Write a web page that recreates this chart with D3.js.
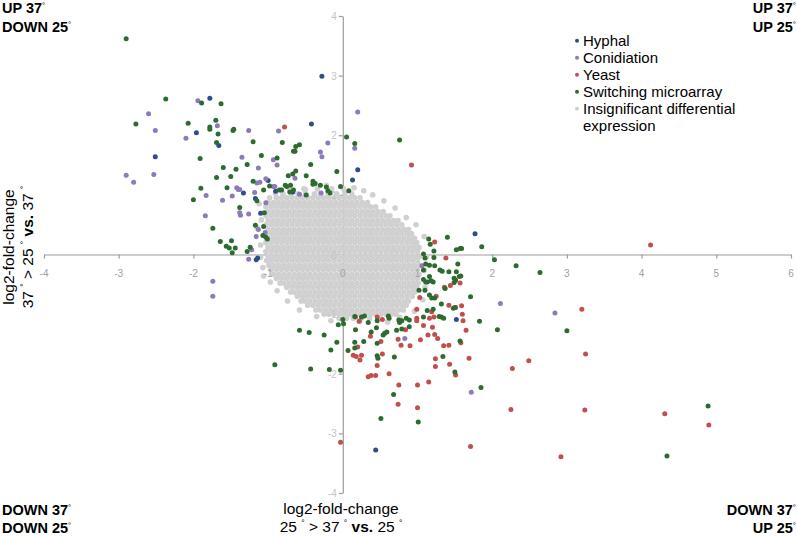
<!DOCTYPE html>
<html>
<head>
<meta charset="utf-8">
<script src="https://cdn.jsdelivr.net/npm/d3@7"></script>
<style>
  body { margin: 0; background: #fff; }
  svg { display: block; font-family: "Liberation Sans", Arial, Helvetica, sans-serif; }
</style>
</head>
<body>
<div id="chart"></div>
<script>
// log2-fold-change: x = 25 > 37 vs 25, y = 37 > 25 vs 37
var hyphal = [[-1.78,2.62],[-1.96,2.04],[-1.66,1.83],[-2.51,1.64],[-0.28,2.99],[-0.42,2.19],[-1.33,1.03],
  [-1.17,0.94],[-1.10,0.69],[-1.00,1.24],[-0.90,1.06],[-0.67,1.05],[0.13,1.25],[0.20,1.42],[-1.16,-0.09],
  [-1.14,-0.06],[1.77,0.35],[1.13,-0.46],[1.52,-1.09],[0.44,-3.28]];

var conidiation = [[-2.60,2.36],[-2.51,2.08],[-1.94,2.58],[-1.68,2.16],[-2.10,1.95],[-1.26,2.08],[-0.86,2.07],
  [-0.20,1.87],[-0.30,1.72],[-0.28,1.64],[-1.35,1.63],[-0.93,1.59],[-0.88,1.50],[-1.13,1.45],[-0.64,1.28],
  [-1.15,1.20],[-1.11,1.21],[-1.03,1.27],[-1.42,1.12],[-1.40,1.09],[-1.38,1.09],[-1.18,1.04],[-0.93,1.14],
  [-0.91,1.14],[-0.58,1.01],[-0.29,1.03],[-2.90,1.33],[-2.80,1.21],[-2.53,1.34],[-1.83,0.99],[-1.48,0.98],
  [-1.61,0.91],[-1.84,0.65],[-1.38,0.70],[-1.37,0.66],[-1.26,0.68],[-1.03,0.87],[-1.13,0.42],[-1.16,0.30],
  [-1.04,0.37],[0.20,2.39],[0.16,1.78],[-1.22,0.08],[-1.26,-0.08],[1.06,-0.19],[2.11,-0.82],[2.84,-0.98],
  [0.83,-1.41],[1.72,-2.31],[-1.74,-0.45],[-1.74,-0.70]];

var yeast = [[-0.78,2.14],[0.92,1.50],[1.23,0.21],[1.38,-0.06],[1.25,-0.70],[1.36,-0.55],[1.44,-0.52],
  [1.57,-0.48],[1.03,-0.72],[0.99,-0.92],[1.42,-0.85],[1.51,-0.89],[1.59,-0.86],[1.19,-0.96],[1.60,-1.00],
  [0.99,-1.07],[0.99,-1.11],[1.16,-1.07],[1.22,-1.05],[1.61,-1.11],[1.08,-1.19],[1.20,-1.22],[1.65,-1.27],
  [0.17,-1.05],[0.22,-1.12],[0.46,-1.05],[0.53,-1.09],[0.51,-1.46],[0.37,-1.37],[0.74,-1.42],[0.78,-1.52],
  [0.90,-1.53],[0.84,-1.26],[1.04,-1.43],[1.14,-1.35],[1.23,-1.34],[1.27,-1.41],[1.35,-1.53],[1.42,-1.52],
  [1.58,-1.48],[0.20,-1.55],[0.14,-1.69],[0.18,-1.71],[0.23,-1.77],[0.25,-1.69],[0.53,-1.67],[0.46,-1.86],
  [0.62,-2.00],[0.34,-2.05],[0.38,-2.03],[0.44,-2.03],[1.24,-1.75],[1.24,-1.88],[1.43,-1.84],[1.51,-2.02],
  [1.69,-1.74],[2.27,-1.91],[2.49,-1.78],[3.20,-0.92],[3.25,-1.67],[3.24,-2.61],[2.25,-2.60],[2.92,-3.39],
  [1.71,-3.22],[1.00,-2.19],[1.15,-2.14],[0.75,-2.19],[0.74,-2.51],[1.00,-2.57],[-0.03,-3.15],[4.12,0.16],
  [4.31,-2.67],[4.90,-2.86]];

var switching = [[-2.90,3.62],[-2.37,2.61],[-2.77,2.19],[-1.89,2.54],[-1.63,2.53],[-1.70,2.25],[-2.07,2.20],
  [-1.78,2.14],[-1.78,2.10],[-1.67,2.02],[-1.47,2.08],[-1.46,2.10],[-1.69,1.88],[-1.20,1.89],[-0.81,1.88],
  [0.05,1.97],[0.16,1.86],[-0.58,1.84],[-0.63,1.81],[-0.66,1.73],[-0.64,1.73],[-1.91,1.61],[-1.09,1.66],
  [-0.88,1.62],[-1.28,1.51],[-1.60,1.46],[-1.43,1.43],[-0.43,1.51],[-0.08,1.39],[-1.69,1.29],[-1.50,1.31],
  [-0.73,1.32],[-0.67,1.35],[-0.63,1.40],[-0.49,1.32],[-1.90,1.11],[-1.55,1.12],[-1.20,1.23],[-0.98,1.15],
  [-0.77,1.16],[-0.75,1.14],[-0.70,1.16],[-0.40,1.23],[-0.40,1.18],[-0.37,1.19],[-0.30,1.16],[-0.22,1.13],
  [-0.20,1.07],[-0.17,1.03],[-0.03,1.14],[0.08,1.07],[-0.85,1.08],[-0.82,1.08],[-0.71,1.05],[-0.66,1.08],
  [-0.49,1.00],[-1.06,1.08],[-2.00,0.92],[-1.38,0.79],[-1.15,0.90],[-1.05,0.70],[-1.74,0.44],[-1.17,0.49],
  [-1.06,0.47],[-1.07,0.32],[-1.03,0.29],[-1.01,0.26],[-1.64,0.22],[-1.49,0.23],[-1.56,0.14],[-1.52,0.11],
  [-1.44,0.11],[-1.48,0.03],[-1.28,0.05],[-1.24,0.12],[0.76,1.92],
  [1.15,0.26],[1.17,0.17],[1.40,0.29],[1.86,0.13],[1.52,0.08],[1.57,0.10],[1.59,0.10],[1.22,0.06],
  [1.08,0.01],[1.10,-0.06],[1.22,-0.05],[2.03,-0.09],[2.32,-0.19],[2.64,-0.30],[1.11,-0.16],[1.16,-0.18],
  [1.23,-0.19],[1.30,-0.26],[1.33,-0.28],[1.42,-0.29],[1.54,-0.16],[1.52,-0.29],[1.56,-0.37],[1.58,-0.36],
  [1.16,-0.37],[1.18,-0.44],[1.21,-0.46],[1.08,-0.26],[1.08,-0.42],[1.11,-0.46],[1.49,-0.40],[1.51,-0.43],
  [1.49,-0.47],[1.37,-0.57],[1.02,-0.60],[1.10,-0.60],[1.16,-0.68],[1.19,-0.73],[1.23,-0.73],[1.71,-0.71],
  [1.32,-0.83],[1.48,-0.90],[1.50,-0.89],[1.13,-0.94],[1.21,-0.92],[1.08,-1.05],[1.29,-1.04],[1.32,-1.05],
  [1.35,-1.07],[1.83,-1.12],[2.07,-1.26],[3.00,-1.28],[1.57,-1.45],[1.34,-1.71],[1.50,-1.97],[1.85,-2.23],
  [0.68,-2.35],[0.51,-2.75],[1.01,-2.81],[0.00,-1.09],[-0.06,-1.18],[0.01,-1.16],[-0.25,-1.35],[-0.45,-1.31],
  [-0.58,-1.27],[-0.08,-1.47],[-0.16,-1.60],[-0.43,-1.92],[-0.18,-1.93],[-0.03,-1.94],[0.16,-1.04],[0.25,-1.05],
  [0.29,-1.03],[0.34,-1.14],[0.46,-1.11],[0.61,-1.03],[0.62,-1.07],[0.75,-1.10],[0.79,-1.11],[0.76,-1.14],
  [0.85,-1.07],[0.89,-1.10],[0.89,-1.21],[0.79,-1.25],[0.72,-1.27],[0.59,-1.30],[0.56,-1.32],[0.54,-1.35],
  [0.45,-1.23],[0.38,-1.30],[0.17,-1.26],[0.16,-1.47],[0.16,-1.57],[0.28,-1.46],[0.46,-1.49],[0.07,-1.61],
  [0.46,-1.70],[0.47,-1.74],[0.69,-1.72],[4.89,-2.54],[4.34,-3.38],[-0.91,-1.85]];

// insignificant genes, dense cloud: one row per y (hundredths), x positions in hundredths
var insignificantRows = [
  ["110", "-71 -52 -34 -15 1"],
  ["102", "-90 -80 -69 -60 -50 -38 -30 -20 -8 3 12"],
  ["95", "-98 -89 -82 -75 -68 -61 -54 -47 -40 -33 -26 -19 -12 -5 2 9 16 23"],
  ["87", "-100 -93 -86 -79 -72 -65 -58 -51 -44 -37 -30 -23 -16 -9 -2 5 12 19 26 33"],
  ["80", "-103 -96 -89 -82 -75 -68 -61 -54 -47 -40 -33 -26 -19 -12 -5 2 9 16 23 30 37 44"],
  ["72", "-100 -93 -86 -79 -72 -65 -58 -51 -44 -37 -30 -23 -16 -9 -2 5 12 19 26 33 40 47 54"],
  ["65", "-103 -96 -89 -82 -75 -68 -61 -54 -47 -40 -33 -26 -19 -12 -5 2 9 16 23 30 37 44 51 58 63"],
  ["57", "-100 -93 -86 -79 -72 -65 -58 -51 -44 -37 -30 -23 -16 -9 -2 5 12 19 26 33 40 47 54 61 68 74"],
  ["50", "-103 -96 -89 -82 -75 -68 -61 -54 -47 -40 -33 -26 -19 -12 -5 2 9 16 23 30 37 44 51 58 65 72 79"],
  ["42", "-100 -93 -86 -79 -72 -65 -58 -51 -44 -37 -30 -23 -16 -9 -2 5 12 19 26 33 40 47 54 61 68 75 82 88"],
  ["35", "-103 -96 -89 -82 -75 -68 -61 -54 -47 -40 -33 -26 -19 -12 -5 2 9 16 23 30 37 44 51 58 65 72 79 86 92"],
  ["27", "-100 -93 -86 -79 -72 -65 -58 -51 -44 -37 -30 -23 -16 -9 -2 5 12 19 26 33 40 47 54 61 68 75 82 89 96"],
  ["20", "-103 -96 -89 -82 -75 -68 -61 -54 -47 -40 -33 -26 -19 -12 -5 2 9 16 23 30 37 44 51 58 65 72 79 86 93 99"],
  ["12", "-100 -93 -86 -79 -72 -65 -58 -51 -44 -37 -30 -23 -16 -9 -2 5 12 19 26 33 40 47 54 61 68 75 82 89 96 102"],
  ["5", "-103 -96 -89 -82 -75 -68 -61 -54 -47 -40 -33 -26 -19 -12 -5 2 9 16 23 30 37 44 51 58 65 72 79 86 93 100"],
  ["-3", "-100 -93 -86 -79 -72 -65 -58 -51 -44 -37 -30 -23 -16 -9 -2 5 12 19 26 33 40 47 54 61 68 75 82 89 96 103"],
  ["-10", "-102 -96 -89 -82 -75 -68 -61 -54 -47 -40 -33 -26 -19 -12 -5 2 9 16 23 30 37 44 51 58 65 72 79 86 93 100"],
  ["-18", "-99 -93 -86 -79 -72 -65 -58 -51 -44 -37 -30 -23 -16 -9 -2 5 12 19 26 33 40 47 54 61 68 75 82 89 96 103"],
  ["-25", "-96 -89 -82 -75 -68 -61 -54 -47 -40 -33 -26 -19 -12 -5 2 9 16 23 30 37 44 51 58 65 72 79 86 93 100"],
  ["-33", "-93 -86 -79 -72 -65 -58 -51 -44 -37 -30 -23 -16 -9 -2 5 12 19 26 33 40 47 54 61 68 75 82 89 96 102"],
  ["-40", "-89 -82 -75 -68 -61 -54 -47 -40 -33 -26 -19 -12 -5 2 9 16 23 30 37 44 51 58 65 72 79 86 93 100"],
  ["-48", "-84 -79 -72 -65 -58 -51 -44 -37 -30 -23 -16 -9 -2 5 12 19 26 33 40 47 54 61 68 75 82 89 96 101"],
  ["-55", "-75 -68 -61 -54 -47 -40 -33 -26 -19 -12 -5 2 9 16 23 30 37 44 51 58 65 72 79 86 93 99"],
  ["-63", "-70 -65 -58 -51 -44 -37 -30 -23 -16 -9 -2 5 12 19 26 33 40 47 54 61 68 75 82 89 96"],
  ["-70", "-61 -54 -47 -40 -33 -26 -19 -12 -5 2 9 16 23 30 37 44 51 58 65 72 79 86 93"],
  ["-78", "-56 -51 -44 -37 -30 -23 -16 -9 -2 5 12 19 26 33 40 47 54 61 68 75 82 88"],
  ["-85", "-47 -40 -33 -26 -19 -12 -5 2 9 16 23 30 37 44 51 58 65 72 79 85"],
  ["-93", "-36 -30 -23 -16 -9 -2 5 12 19 26 33 40 47 54 61 68 75 81"],
  ["-100", "-25 -19 -12 -5 2 9 16 23 30 37 44 51 58 65 71"],
  ["-107", "-5 5 14 25 36 47"]
];
var insignificantExtra = [[-1.09,0.58],[-1.10,0.16],[-1.07,-0.22],[1.09,-0.27],[1.07,-0.76],[0.60,-1.13],
  [0.28,1.07],[-0.50,1.09],[-1.12,0.85],[-1.15,0.45],[-1.10,-0.05],[-1.06,-0.36],[-0.97,-0.46],[-0.88,-0.61],
  [-0.74,-0.78],[-0.58,-0.93],[-0.35,-1.04],[-0.16,-1.11],[0.22,-1.12],[0.76,-1.05],[0.96,-0.95],[1.10,-0.55],
  [1.12,-0.04],[1.09,0.30],[0.98,0.50],[0.85,0.62],[0.70,0.78],[0.55,0.90],[0.40,1.00],[0.15,1.12],
  [-0.22,1.16],[-0.82,1.08]];

var xTicks = [-4, -3, -2, -1, 0, 1, 2, 3, 4, 5, 6];
var yTicks = [-4, -3, -2, -1, 0, 1, 2, 3, 4];

var legendNames = ["Hyphal", "Conidiation", "Yeast", "Switching microarray", "Insignificant differential"];
var legendColors = ["#2e4d8c", "#8c7aba", "#c0504d", "#2e6b2e", "#d0d0d0"];

var width = 797, height = 537;

var x = d3.scaleLinear().domain([-4, 6]).range([44, 791]);
var y = d3.scaleLinear().domain([-4, 4]).range([493, 16]);

var insignificant = [];
insignificantRows.forEach(function(r) {
  var yy = +r[0] / 100;
  r[1].split(" ").forEach(function(v) { insignificant.push([+v / 100, yy]); });
});
insignificant = insignificant.concat(insignificantExtra);

var svg = d3.select("#chart").append("svg")
  .attr("width", width)
  .attr("height", height);

// axis lines and ticks (under the points)
var xAxis = d3.axisBottom(x).tickValues(xTicks).tickSize(4).tickSizeOuter(0).tickFormat("");
var yAxis = d3.axisLeft(y).tickValues(yTicks).tickSize(4).tickSizeOuter(0).tickFormat("");

svg.append("g")
  .attr("transform", "translate(0," + y(0) + ")")
  .call(xAxis);
svg.append("g")
  .attr("transform", "translate(" + x(0) + ",0)")
  .call(yAxis);
svg.selectAll(".domain, .tick line")
  .attr("stroke", "#9c9c9c")
  .attr("stroke-width", 1.2);

var R = 2.5;

svg.append("g").selectAll("circle")
  .data(insignificant)
  .join("circle")
  .attr("cx", function(d) { return x(d[0]); })
  .attr("cy", function(d) { return y(d[1]); })
  .attr("r", 2.8)
  .attr("fill", legendColors[4]);

var groups = [hyphal, conidiation, yeast, switching];
groups.forEach(function(pts, i) {
  svg.append("g").selectAll("circle")
    .data(pts)
    .join("circle")
    .attr("cx", function(d) { return x(d[0]); })
    .attr("cy", function(d) { return y(d[1]); })
    .attr("r", R)
    .attr("fill", legendColors[i]);
});

// tick labels on top
svg.append("g").selectAll("text")
  .data(xTicks)
  .join("text")
  .attr("x", function(d) { return x(d); })
  .attr("y", y(0) + 22)
  .attr("text-anchor", "middle")
  .style("font-size", "10px")
  .attr("fill", "#a0a0a0")
  .text(function(d) { return d; });

svg.append("g").selectAll("text")
  .data(yTicks)
  .join("text")
  .attr("x", x(0) - 6)
  .attr("y", function(d) { return y(d) + 4; })
  .attr("text-anchor", "end")
  .style("font-size", "10px")
  .attr("fill", "#c4c4c4")
  .text(function(d) { return d; });

// text with small raised degree signs; parts: [text, kind]
function richText(parent, px, py, anchor, size, weight, parts) {
  var t = parent.append("text")
    .attr("x", px)
    .attr("y", py)
    .attr("text-anchor", anchor)
    .style("font-size", size + "px")
    .style("font-weight", weight)
    .attr("fill", "#000");
  var shifted = false;
  parts.forEach(function(p) {
    var s = t.append("tspan").text(p[0]);
    if (p[1] === "deg") {
      s.attr("dy", -size * 0.36).style("font-size", (size * 0.55) + "px").style("font-weight", "normal");
      shifted = true;
    } else {
      if (shifted) { s.attr("dy", size * 0.36); shifted = false; }
      if (p[1] === "b") s.style("font-weight", "bold");
    }
  });
  return t;
}

var fs = 14.5;
richText(svg, 2, 13, "start", fs, "bold", [["UP 37"], ["°", "deg"]]);
richText(svg, 2, 32, "start", fs, "bold", [["DOWN 25"], ["°", "deg"]]);
richText(svg, 796, 13, "end", fs, "bold", [["UP 37"], ["°", "deg"]]);
richText(svg, 796, 32, "end", fs, "bold", [["UP 25"], ["°", "deg"]]);
richText(svg, 2, 515, "start", fs, "bold", [["DOWN 37"], ["°", "deg"]]);
richText(svg, 2, 533, "start", fs, "bold", [["DOWN 25"], ["°", "deg"]]);
richText(svg, 796, 515, "end", fs, "bold", [["DOWN 37"], ["°", "deg"]]);
richText(svg, 796, 533, "end", fs, "bold", [["UP 25"], ["°", "deg"]]);

// axis titles
richText(svg, 341, 514, "middle", 15.5, "normal", [["log2-fold-change"]]);
richText(svg, 341, 532, "middle", 15.5, "normal",
  [["25 "], ["°", "deg"], [" > 37 "], ["°", "deg"], [" "], ["vs.", "b"], [" 25 "], ["°", "deg"]]);

var yl1 = svg.append("g").attr("transform", "translate(14,247) rotate(-90)");
richText(yl1, 0, 0, "middle", 15.5, "normal", [["log2-fold-change"]]);
var yl2 = svg.append("g").attr("transform", "translate(33,247) rotate(-90)");
richText(yl2, 0, 0, "middle", 15.5, "normal",
  [["37 "], ["°", "deg"], [" > 25 "], ["°", "deg"], [" "], ["vs.", "b"], [" 37 "], ["°", "deg"]]);

// legend
var legend = svg.append("g");
legendNames.forEach(function(name, i) {
  var ly = 40.7 + i * 17;
  legend.append("circle")
    .attr("cx", 577)
    .attr("cy", ly)
    .attr("r", 2)
    .attr("fill", legendColors[i]);
  legend.append("text")
    .attr("x", 583)
    .attr("y", ly + 5.3)
    .style("font-size", "15px")
    .attr("fill", "#000")
    .text(name);
});
legend.append("text")
  .attr("x", 583)
  .attr("y", 40.7 + 5 * 17 + 5.3)
  .style("font-size", "15px")
  .attr("fill", "#000")
  .text("expression");
</script>
</body>
</html>
